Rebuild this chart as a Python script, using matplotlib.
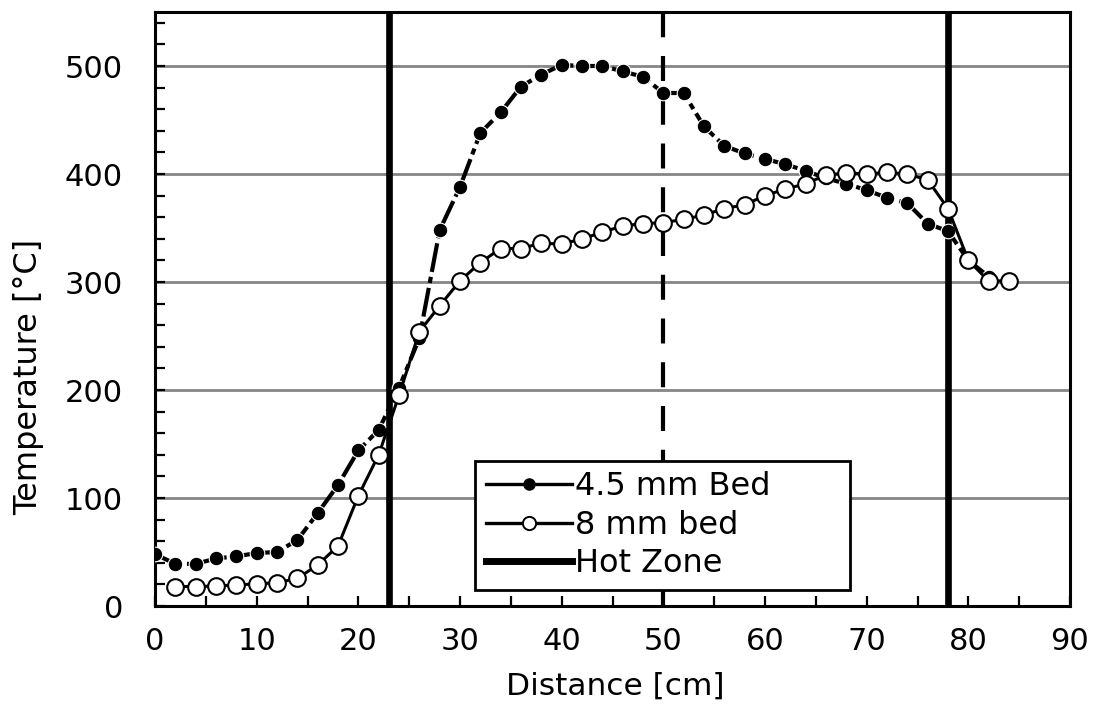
import matplotlib
matplotlib.use("Agg")
import matplotlib.pyplot as plt
from matplotlib.lines import Line2D
from matplotlib.ticker import MultipleLocator

# ---- data ----
x_fine = [0, 2, 4, 6, 8, 10, 12, 14, 16, 18, 20, 22, 24, 26, 28, 30, 32, 34, 36, 38, 40,
          42, 44, 46, 48, 50, 52, 54, 56, 58, 60, 62, 64, 66, 68, 70, 72, 74, 76, 78, 80, 82]
t_fine = [48, 39, 39, 44, 46, 49, 50, 61, 86, 112, 144, 163, 202, 248, 348, 388, 438, 457, 481, 492, 501,
          500, 500, 495, 490, 475, 475, 444, 426, 419, 414, 409, 403, 396, 391, 385, 378, 373, 354, 347, 320, 305]

x_coarse = [2, 4, 6, 8, 10, 12, 14, 16, 18, 20, 22, 24, 26, 28, 30, 32, 34, 36, 38, 40, 42,
            44, 46, 48, 50, 52, 54, 56, 58, 60, 62, 64, 66, 68, 70, 72, 74, 76, 78, 80, 82, 84]
t_coarse = [18, 18, 18.5, 19.5, 20.5, 21.5, 25.5, 38, 55.5, 102, 140, 195, 254, 278, 301, 318, 331, 331, 336, 335, 340,
            346, 352, 354, 355, 358, 362, 368, 371.5, 380, 386, 391, 399, 401, 400, 401.5, 400, 394.5, 368, 320, 301, 301]

hot_zone = [23, 78]
midpoint = 50

series_labels = ["4.5 mm Bed", "8 mm bed", "Hot Zone"]
x_label = "Distance [cm]"
y_label = "Temperature [°C]"

# ---- figure ----
plt.rcParams['font.family'] = ['DejaVu Sans']
fig = plt.figure(figsize=(10.98, 7.13), dpi=100)
ax = fig.add_axes([155/1098, 107/713, 915/1098, 594/713])

FS = 22

for yv in range(100, 501, 100):
    ax.axhline(yv, color='#858585', lw=2.0, zorder=1)

for xv in hot_zone:
    ax.axvline(xv, color='black', lw=4.8, zorder=2)
ax.axvline(midpoint, color='black', lw=3.0, linestyle=(0, (6, 4.5)), zorder=2)

ax.plot(x_fine, t_fine, color='black', lw=3.0, linestyle=(0, (7, 1.2, 1.5, 1.2)),
        marker='o', markersize=10.5, markerfacecolor='black', markeredgecolor='white',
        markeredgewidth=0.8, zorder=3)
ax.plot(x_coarse, t_coarse, color='black', lw=2.2, linestyle='-',
        marker='o', markersize=12, markerfacecolor='white', markeredgecolor='black',
        markeredgewidth=1.5, zorder=4)

ax.set_xlim(0, 90)
ax.set_ylim(0, 550)
ax.xaxis.set_major_locator(MultipleLocator(10))
ax.xaxis.set_minor_locator(MultipleLocator(5))
ax.yaxis.set_major_locator(MultipleLocator(100))
ax.yaxis.set_minor_locator(MultipleLocator(20))
ax.tick_params(axis='both', which='both', direction='in', length=7, width=1.6,
               labelsize=FS, top=False, right=False)
ax.tick_params(axis='x', which='major', pad=15)
ax.tick_params(axis='y', which='major', pad=23)
for s in ax.spines.values():
    s.set_linewidth(2.2)
    s.set_color('black')

ax.set_xlabel(x_label, fontsize=22.5)
ax.xaxis.set_label_coords(0.503, -0.11)
ax.set_ylabel(y_label, fontsize=23, va='center')
ax.yaxis.set_label_coords(-0.138, 0.386)

handles = [
    Line2D([], [], color='black', lw=2.4, marker='o', markersize=8,
           markerfacecolor='black', markeredgecolor='black'),
    Line2D([], [], color='black', lw=2.4, marker='o', markersize=9.5,
           markerfacecolor='white', markeredgecolor='black', markeredgewidth=1.4),
    Line2D([], [], color='black', lw=5.0),
]
leg = ax.legend(handles, series_labels, loc='lower left',
                bbox_to_anchor=(0.35, 0.027, 0.41, 0.217), mode='expand',
                borderaxespad=0, fontsize=23,
                frameon=True, fancybox=False, handlelength=2.7, handletextpad=0.1,
                labelspacing=0.24, borderpad=0.33)
leg.get_frame().set_edgecolor('black')
leg.get_frame().set_linewidth(2.0)
leg.get_frame().set_alpha(1)
leg.set_zorder(10)

fig.savefig("out.png", dpi=100)
